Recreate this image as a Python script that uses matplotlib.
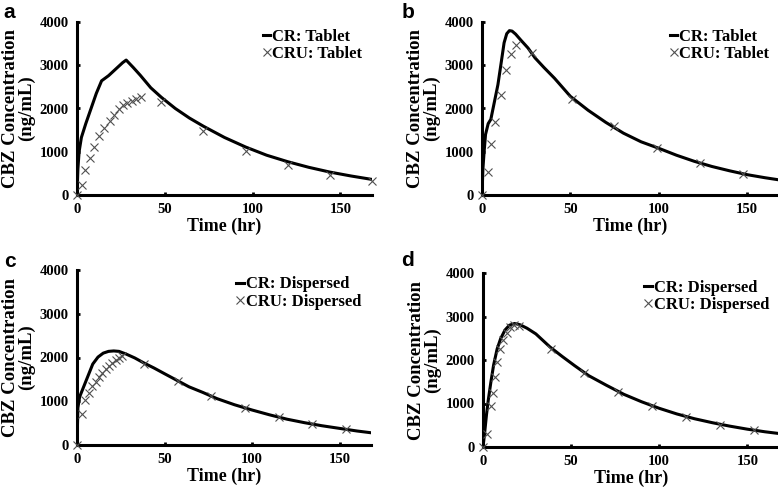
import matplotlib
matplotlib.use("Agg")
from matplotlib import pyplot as plt

plt.rcParams['font.family'] = ['Liberation Serif', 'DejaVu Serif']
plt.rcParams['font.weight'] = 'bold'

# panel a - tablet
a_cr_t = [0, 0.5, 1.2, 2.5, 5, 8, 11, 14, 18, 22, 26, 28, 32, 36, 42, 48, 56, 64, 72, 84, 96, 108, 120, 132, 144, 156, 168]
a_cr_y = [0, 600, 1000, 1330, 1650, 2000, 2350, 2640, 2760, 2910, 3060, 3120, 2950, 2770, 2480, 2260, 2000, 1780, 1590, 1330, 1110, 920, 770, 640, 530, 440, 360]
a_cru_t = [0, 2.7, 4.6, 7.4, 9.9, 12.7, 15.6, 18.8, 21.3, 24, 26.4, 28.7, 31.2, 33.7, 36.3, 48, 72, 96, 120, 144, 168]
a_cru_y = [0, 220, 580, 860, 1100, 1360, 1560, 1710, 1850, 1980, 2070, 2130, 2170, 2210, 2260, 2150, 1490, 1010, 690, 470, 320]

# panel b - tablet
b_cr_t = [0, 0.5, 1.2, 2, 3.5, 5, 7, 9, 11, 12.5, 14, 15.5, 17, 19, 22, 26, 30, 35, 41, 50, 60, 70, 80, 90, 100, 110, 120, 130, 140, 150, 160, 168]
b_cr_y = [0, 600, 1000, 1400, 1650, 1750, 2150, 2550, 3100, 3520, 3730, 3800, 3790, 3720, 3580, 3400, 3170, 2950, 2700, 2280, 1960, 1680, 1430, 1230, 1080, 920, 780, 660, 560, 470, 400, 350]
b_cru_t = [0, 3.5, 5.3, 7.5, 10.9, 13.8, 16.6, 19.4, 28, 51, 74.5, 99, 123.5, 147.5]
b_cru_y = [0, 530, 1190, 1690, 2320, 2900, 3260, 3460, 3280, 2230, 1590, 1080, 730, 490]

# panel c - dispersed
c_cr_t = [0, 0.5, 1.5, 3, 5, 7, 9, 12, 15, 18, 21, 24, 28, 33, 38, 44, 50, 57, 64, 72, 80, 90, 100, 110, 120, 130, 140, 150, 160, 168]
c_cr_y = [0, 850, 1100, 1250, 1450, 1650, 1850, 2010, 2100, 2140, 2150, 2140, 2080, 1990, 1880, 1760, 1630, 1480, 1330, 1200, 1060, 920, 800, 690, 590, 510, 440, 380, 320, 280]
c_cru_t = [0, 2.9, 4.8, 6.7, 8.6, 10.6, 12.5, 14.4, 16.3, 18.2, 20.2, 22.1, 24.0, 25.9, 38.4, 57.6, 76.8, 96, 115.2, 134.4, 153.6]
c_cru_y = [0, 720, 1030, 1200, 1340, 1450, 1560, 1650, 1730, 1810, 1880, 1950, 2000, 2040, 1860, 1470, 1130, 850, 650, 490, 370]

# panel d - dispersed
d_cr_t = [0, 1, 2, 3, 4.5, 6, 8, 10, 12.5, 15, 18, 21, 25, 30, 38, 45, 52, 60, 70, 80, 90, 100, 110, 120, 130, 140, 150, 160, 168]
d_cr_y = [0, 350, 750, 1080, 1500, 1880, 2250, 2490, 2690, 2800, 2840, 2810, 2730, 2600, 2300, 2080, 1870, 1640, 1420, 1210, 1040, 890, 760, 650, 560, 480, 410, 350, 310]
d_cru_t = [0, 2.5, 4.4, 5.5, 6.7, 8.0, 9.7, 11.6, 13.5, 15.6, 17.8, 20.5, 38.4, 57.6, 76.8, 96, 115.2, 134.4, 153.6]
d_cru_y = [0, 300, 950, 1250, 1620, 1960, 2250, 2470, 2630, 2760, 2800, 2790, 2260, 1700, 1270, 950, 690, 510, 390]

panels = [
    ('a', a_cr_t, a_cr_y, a_cru_t, a_cru_y, 'Tablet'),
    ('b', b_cr_t, b_cr_y, b_cru_t, b_cru_y, 'Tablet'),
    ('c', c_cr_t, c_cr_y, c_cru_t, c_cru_y, 'Dispersed'),
    ('d', d_cr_t, d_cr_y, d_cru_t, d_cru_y, 'Dispersed'),
]

W, H = 778, 490
fig = plt.figure(figsize=(W/100, H/100), dpi=100)

# axes boxes in pixels: left, bottom(from top), right, top(from top)
boxes = [
    (77, 195, 372, 22),
    (482, 195, 779, 22),
    (77, 445, 371, 270),
    (483, 447, 779, 273),
]
# panel letter positions (x, baseline from top) in pixels
letter_pos = [(3, 18), (402, 18), (4, 267), (401, 266)]

for (lab, crt, cry, crut, cruy, form), (l, b, r, t), (lx, ly) in zip(panels, boxes, letter_pos):
    ax = fig.add_axes([l/W, (H-b)/H, (r-l)/W, (b-t)/H])
    ax.plot(crt, cry, color='black', lw=2.2, solid_joinstyle='round', label='CR: ' + form, zorder=3)
    ax.plot(crut, cruy, ls='none', marker='x', ms=6, mew=0.8, color='#505050',
            label='CRU: ' + form, zorder=4, clip_on=False)
    ax.set_xlim(0, 168)
    ax.set_ylim(0, 4000)
    ax.set_xticks([0, 50, 100, 150])
    ax.set_yticks([0, 1000, 2000, 3000, 4000])
    for s in ['top', 'right']:
        ax.spines[s].set_visible(False)
    for s in ['left', 'bottom']:
        ax.spines[s].set_linewidth(2.2)
    ax.tick_params(direction='in', length=2.5, width=2, labelsize=10.5)
    ax.tick_params(axis='y', pad=6)
    ax.tick_params(axis='x', pad=6)
    for tl in ax.get_xticklabels() + ax.get_yticklabels():
        tl.set_fontweight('bold')
    ax.set_xlabel('Time (hr)', fontsize=13, fontweight='bold', labelpad=1)
    ax.set_ylabel('CBZ Concentration\n(ng/mL)', fontsize=13.5, fontweight='bold',
                  labelpad=3, linespacing=0.95)
    leg = ax.legend(loc='upper right', bbox_to_anchor=(1.0, 1.02), frameon=False,
                    fontsize=12, handlelength=0.45, handletextpad=0.1,
                    labelspacing=0.1, borderaxespad=0.2)
    for txt in leg.get_texts():
        txt.set_fontweight('bold')
    fig.text(lx/W, 1 - ly/H, lab, fontsize=15, fontweight='bold',
             family='Liberation Sans', ha='left', va='baseline')

fig.savefig('out.png', dpi=100)
